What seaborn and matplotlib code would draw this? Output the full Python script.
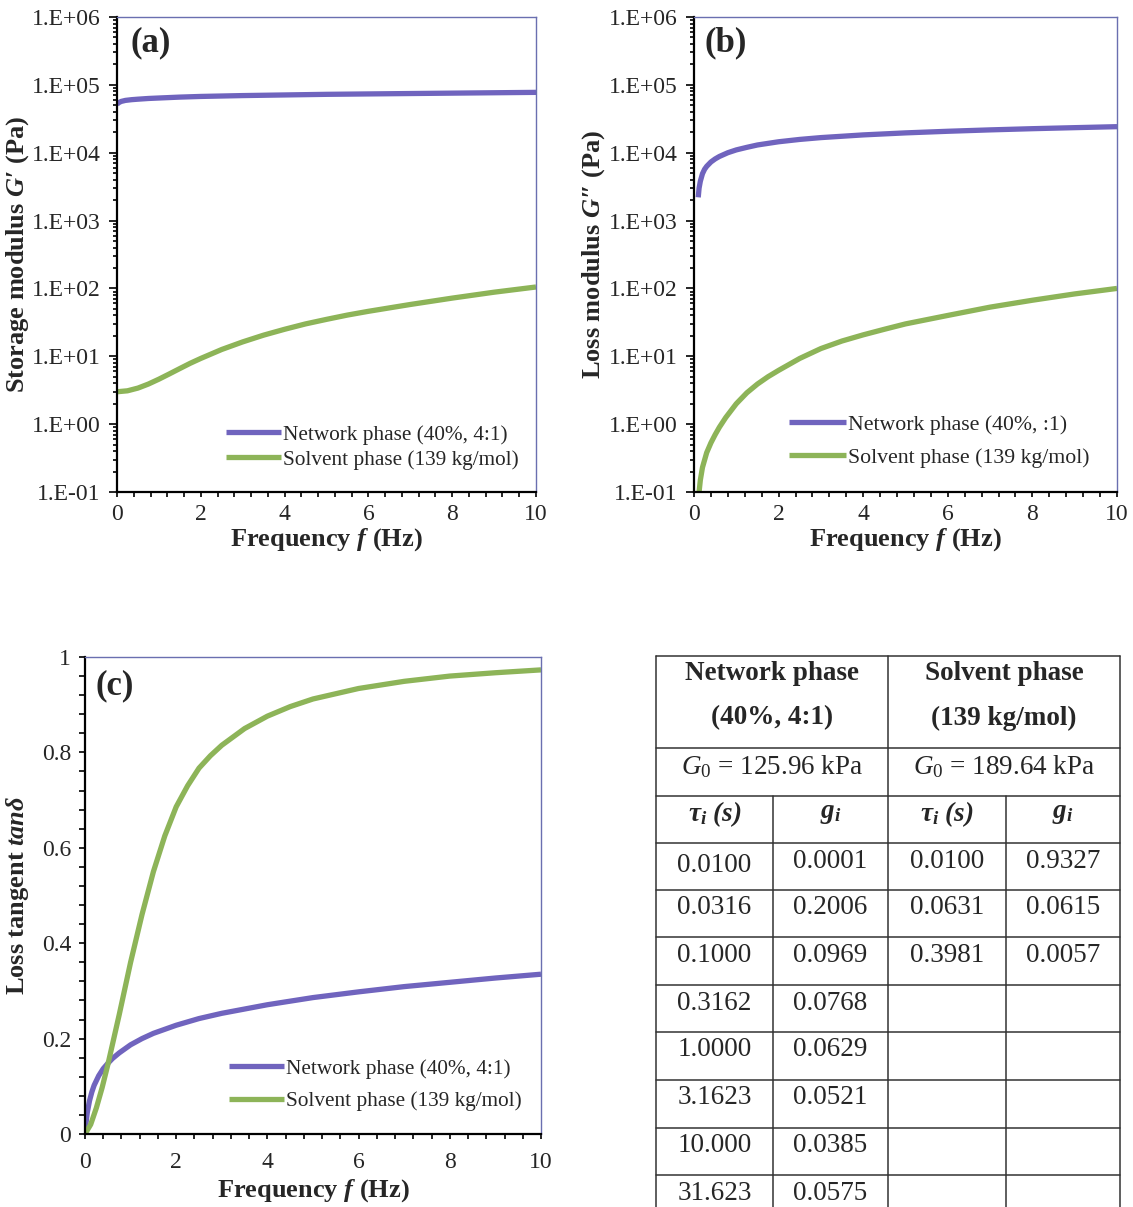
import numpy as np
import pandas as pd
import matplotlib
matplotlib.use("Agg")
import matplotlib.pyplot as plt
import matplotlib.ticker as mticker
import seaborn as sns

# ---------------- curve data ----------------
# (a) storage modulus G' (Pa)
f_gp_net = [0, 0.05, 0.1, 0.2, 0.35, 0.5, 0.75, 1, 1.5, 2, 3, 4, 5, 6, 7, 8, 9, 10]
gp_net = [5.2e4, 5.5e4, 5.7e4, 5.9e4, 6.05e4, 6.15e4, 6.3e4, 6.4e4, 6.6e4, 6.75e4,
          6.95e4, 7.1e4, 7.25e4, 7.35e4, 7.45e4, 7.55e4, 7.65e4, 7.75e4]
f_gp_sol = [0, 0.25, 0.5, 0.75, 1, 1.25, 1.5, 1.75, 2, 2.5, 3, 3.5, 4, 4.5, 5, 5.5,
            6, 7, 8, 9, 10]
gp_sol = [3.0, 3.1, 3.4, 3.9, 4.6, 5.5, 6.6, 7.9, 9.3, 12.6, 16.3, 20.5, 25, 30, 35,
          40.5, 46, 58, 72, 88, 105]

# (b) loss modulus G'' (Pa)
f_gpp_net = [0.1, 0.12, 0.15, 0.2, 0.25, 0.3, 0.4, 0.5, 0.6, 0.8, 1, 1.25, 1.5, 2,
             2.5, 3, 4, 5, 6, 7, 8, 9, 10]
gpp_net = [2.2e3, 3.0e3, 3.8e3, 4.9e3, 5.7e3, 6.3e3, 7.3e3, 8.1e3, 8.8e3, 1.0e4,
           1.1e4, 1.2e4, 1.3e4, 1.45e4, 1.57e4, 1.67e4, 1.83e4, 1.96e4, 2.07e4,
           2.17e4, 2.26e4, 2.34e4, 2.42e4]
f_gpp_sol = [0.12, 0.15, 0.2, 0.3, 0.4, 0.5, 0.6, 0.75, 1, 1.25, 1.5, 1.75, 2, 2.5,
             3, 3.5, 4, 4.5, 5, 6, 7, 8, 9, 10]
gpp_sol = [0.1, 0.15, 0.23, 0.38, 0.53, 0.7, 0.9, 1.25, 2.0, 2.9, 3.9, 5.0, 6.2,
           9.3, 13, 16.8, 20.7, 25, 30, 40, 53, 67, 83, 100]

# (c) loss tangent
f_tan_net = [0, 0.025, 0.05, 0.1, 0.15, 0.2, 0.3, 0.4, 0.5, 0.6, 0.75, 1, 1.25, 1.5,
             2, 2.5, 3, 4, 5, 6, 7, 8, 9, 10]
tan_net = [0, 0.025, 0.045, 0.07, 0.088, 0.102, 0.122, 0.137, 0.148, 0.158, 0.17,
           0.187, 0.2, 0.211, 0.228, 0.242, 0.253, 0.271, 0.286, 0.298, 0.309,
           0.318, 0.327, 0.335]
f_tan_sol = [0, 0.125, 0.25, 0.375, 0.5, 0.75, 1, 1.25, 1.5, 1.75, 2, 2.25, 2.5,
             2.75, 3, 3.5, 4, 4.5, 5, 6, 7, 8, 9, 10]
tan_sol = [0, 0.02, 0.055, 0.097, 0.145, 0.25, 0.36, 0.46, 0.55, 0.625, 0.686, 0.73,
           0.767, 0.793, 0.815, 0.85, 0.876, 0.896, 0.912, 0.934, 0.949, 0.96,
           0.967, 0.973]

label_net = "Network phase (40%, 4:1)"
label_net_b = "Network phase (40%, :1)"
label_sol = "Solvent phase (139 kg/mol)"

# ---------------- Prony-series table ----------------
net_title = ["Network phase", "(40%, 4:1)"]
sol_title = ["Solvent phase", "(139 kg/mol)"]
net_g0 = "125.96"
sol_g0 = "189.64"
net_tau = ["0.0100", "0.0316", "0.1000", "0.3162", "1.0000", "3.1623", "10.000", "31.623"]
net_g = ["0.0001", "0.2006", "0.0969", "0.0768", "0.0629", "0.0521", "0.0385", "0.0575"]
sol_tau = ["0.0100", "0.0631", "0.3981"]
sol_g = ["0.9327", "0.0615", "0.0057"]

# ---------------- style ----------------
sns.set_style("ticks")
plt.rcParams["font.family"] = ["Liberation Serif", "DejaVu Serif"]
plt.rcParams["mathtext.fontset"] = "custom"
plt.rcParams["mathtext.rm"] = "Liberation Serif"
plt.rcParams["mathtext.it"] = "Liberation Serif:italic"
plt.rcParams["mathtext.bf"] = "Liberation Serif:bold:italic"

NET_COLOR = "#7064be"
SOL_COLOR = "#8db458"
FRAME_COLOR = "#6a6fb0"
LW = 3.8
TICK_FS = 17
LABEL_FS = 19
LEG_FS = 15.3
PANEL_FS = 25

W, H = 1133, 1207
fig = plt.figure(figsize=(W / 100, H / 100), dpi=100)


def px_axes(left, top, right, bottom):
    return fig.add_axes([left / W, 1 - bottom / H, (right - left) / W, (bottom - top) / H])


def style_axes(ax, xpad=5, xlabelpad=1):
    for side in ("top", "right"):
        ax.spines[side].set_color(FRAME_COLOR)
        ax.spines[side].set_linewidth(1.0)
    for side in ("left", "bottom"):
        ax.spines[side].set_color("black")
        ax.spines[side].set_linewidth(1.6)
    ax.tick_params(which="both", direction="out", color="black", width=1.2,
                   labelsize=TICK_FS, top=False, right=False)
    ax.tick_params(axis="y", which="major", length=6, pad=6)
    ax.tick_params(axis="y", which="minor", length=3)
    ax.tick_params(axis="x", which="both", length=3.5, pad=xpad)
    ax.set_xlim(0, 10)
    ax.xaxis.set_major_locator(mticker.MultipleLocator(2))
    ax.xaxis.set_minor_locator(mticker.MultipleLocator(0.4))
    ax.set_xlabel(r"Frequency $\mathbf{f}$ (Hz)", fontsize=LABEL_FS,
                  fontweight="bold", labelpad=xlabelpad)
    ax.grid(False)


def sci_label(v, pos):
    return f"1.E{int(round(np.log10(v))):+03d}"


def draw_pair(ax, fx1, y1, fx2, y2, lab1):
    sns.lineplot(x=fx1, y=y1, ax=ax, color=NET_COLOR, lw=LW, label=lab1,
                 estimator=None, sort=False, solid_capstyle="butt")
    sns.lineplot(x=fx2, y=y2, ax=ax, color=SOL_COLOR, lw=LW, label=label_sol,
                 estimator=None, sort=False, solid_capstyle="butt")


def log_axis(ax):
    ax.set_yscale("log")
    ax.set_ylim(1e-1, 1e6)
    ax.yaxis.set_major_locator(mticker.LogLocator(base=10, numticks=20))
    ax.yaxis.set_minor_locator(mticker.LogLocator(base=10, subs=np.arange(2, 10), numticks=20))
    ax.yaxis.set_major_formatter(mticker.FuncFormatter(sci_label))
    ax.yaxis.set_minor_formatter(mticker.NullFormatter())


def legend(ax, spacing, anchor, size=LEG_FS):
    leg = ax.legend(loc="lower right", bbox_to_anchor=anchor, frameon=False,
                    fontsize=size, handlelength=2.6, handletextpad=0.1,
                    labelspacing=spacing, borderaxespad=0)
    for h in leg.get_lines():
        h.set_linewidth(LW)


# (a) storage modulus
ax_a = px_axes(117, 17, 536, 492)
draw_pair(ax_a, f_gp_net, gp_net, f_gp_sol, gp_sol, label_net)
log_axis(ax_a)
style_axes(ax_a)
ax_a.set_ylabel(r"Storage modulus $\mathbf{G}$′ (Pa)", fontsize=LABEL_FS, fontweight="bold")
ax_a.yaxis.set_label_coords(-0.205, 0.5)
ax_a.text(0.033, 0.945, "(a)", transform=ax_a.transAxes, fontsize=PANEL_FS,
          fontweight="bold", va="center", ha="left")
legend(ax_a, 0.25, (0.98, 0.029))

# (b) loss modulus
ax_b = px_axes(694, 17, 1117, 492)
draw_pair(ax_b, f_gpp_net, gpp_net, f_gpp_sol, gpp_sol, label_net_b)
log_axis(ax_b)
style_axes(ax_b)
ax_b.set_ylabel(r"Loss modulus $\mathbf{G}$″ (Pa)", fontsize=LABEL_FS, fontweight="bold")
ax_b.yaxis.set_label_coords(-0.205, 0.5)
ax_b.text(0.024, 0.945, "(b)", transform=ax_b.transAxes, fontsize=PANEL_FS,
          fontweight="bold", va="center", ha="left")
legend(ax_b, 0.6, (0.955, 0.032), size=15.7)

# (c) loss tangent
ax_c = px_axes(85, 657, 541, 1134)
draw_pair(ax_c, f_tan_net, tan_net, f_tan_sol, tan_sol, label_net)
style_axes(ax_c, xpad=9.5, xlabelpad=3)
ax_c.set_ylim(0, 1)
ax_c.yaxis.set_major_locator(mticker.MultipleLocator(0.2))
ax_c.yaxis.set_minor_locator(mticker.MultipleLocator(0.04))
ax_c.yaxis.set_major_formatter(mticker.FuncFormatter(lambda v, p: f"{v:g}"))
ax_c.tick_params(axis="y", which="both", length=4, pad=6)
ax_c.set_ylabel(r"Loss tangent $\mathbf{tan\delta}$", fontsize=LABEL_FS, fontweight="bold")
ax_c.yaxis.set_label_coords(-0.118, 0.5)
ax_c.text(0.024, 0.94, "(c)", transform=ax_c.transAxes, fontsize=PANEL_FS,
          fontweight="bold", va="center", ha="left")
legend(ax_c, 0.6, (0.976, 0.03))

# ---------------- table ----------------
ax_t = fig.add_axes([0, 0, 1, 1], zorder=-1)
ax_t.set_xlim(0, W)
ax_t.set_ylim(H, 0)
ax_t.axis("off")

cols = [656, 773, 888, 1006, 1120]
rows = [656, 748, 796, 843, 890, 937, 985, 1032, 1080, 1128, 1175, 1222]
TLW = 1.1
for y in rows:
    ax_t.plot([cols[0], cols[-1]], [y, y], color="#333333", lw=TLW, clip_on=False)
for x in (cols[0], cols[2], cols[4]):
    ax_t.plot([x, x], [rows[0], H + 20], color="#333333", lw=TLW, clip_on=False)
for x in (cols[1], cols[3]):
    ax_t.plot([x, x], [rows[2], H + 20], color="#333333", lw=TLW, clip_on=False)

TFS = 19.5
left_c = (cols[0] + cols[2]) / 2
right_c = (cols[2] + cols[4]) / 2
for cx, title in ((left_c, net_title), (right_c, sol_title)):
    ax_t.text(cx, 673, title[0], ha="center", va="center", fontsize=TFS, fontweight="bold")
    ax_t.text(cx, 718, title[1], ha="center", va="center", fontsize=TFS, fontweight="bold")
ax_t.text(left_c, 767, rf"$G_0$ = {net_g0} kPa", ha="center", va="center", fontsize=TFS)
ax_t.text(right_c, 767, rf"$G_0$ = {sol_g0} kPa", ha="center", va="center", fontsize=TFS)

col_c = [(cols[i] + cols[i + 1]) / 2 for i in range(4)]
for i, hdr in enumerate([r"$\mathbf{\tau_i\ (s)}$", r"$\mathbf{g_i}$",
                         r"$\mathbf{\tau_i\ (s)}$", r"$\mathbf{g_i}$"]):
    ax_t.text(col_c[i], 814, hdr, ha="center", va="center", fontsize=TFS)

for k in range(len(net_tau)):
    top = rows[3 + k]
    ax_t.text(col_c[0], top + (23 if k == 0 else 18), net_tau[k], ha="center",
              va="center", fontsize=TFS)
    ax_t.text(col_c[1], top + 18, net_g[k], ha="center", va="center", fontsize=TFS)
for k in range(len(sol_tau)):
    top = rows[3 + k]
    ax_t.text(col_c[2], top + 18, sol_tau[k], ha="center", va="center", fontsize=TFS)
    ax_t.text(col_c[3], top + 18, sol_g[k], ha="center", va="center", fontsize=TFS)

fig.savefig("out.png", dpi=100)
